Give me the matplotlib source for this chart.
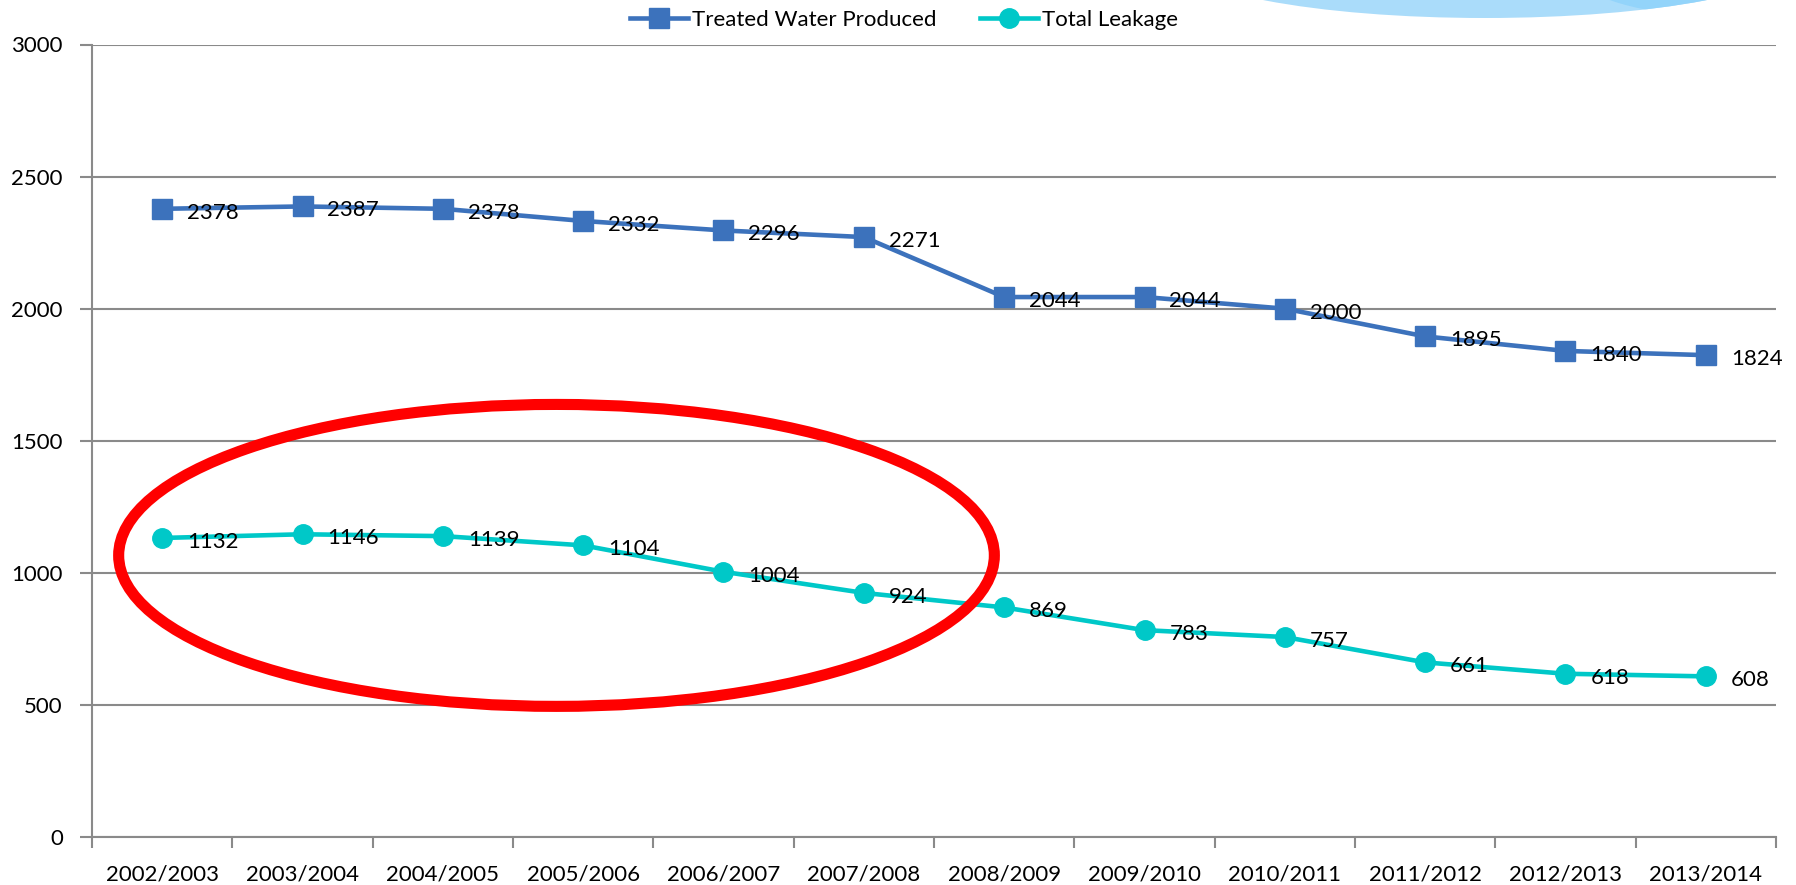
import matplotlib
matplotlib.use("Agg")
import matplotlib.pyplot as plt
from matplotlib.patches import Ellipse
import numpy as np

plt.rcParams['font.family'] = ['Lato', 'DejaVu Sans']

years = ["2002/2003", "2003/2004", "2004/2005", "2005/2006", "2006/2007", "2007/2008",
         "2008/2009", "2009/2010", "2010/2011", "2011/2012", "2012/2013", "2013/2014"]
treated = [2378, 2387, 2378, 2332, 2296, 2271, 2044, 2044, 2000, 1895, 1840, 1824]
leakage = [1132, 1146, 1139, 1104, 1004, 924, 869, 783, 757, 661, 618, 608]
yticks = [0, 500, 1000, 1500, 2000, 2500, 3000]

blue = '#3c72bc'
teal = '#00c8c8'
grid = '#8a8a8a'

W, H = 1796, 885
fig = plt.figure(figsize=(W / 100, H / 100), dpi=100)
ax = fig.add_axes([92 / W, (H - 837) / H, (1776 - 92) / W, (837 - 44.5) / H])

x = np.arange(len(years))
ax.plot(x, treated, color=blue, lw=3.3, marker='s', ms=14, mec=blue, label='Treated Water Produced', zorder=3)
ax.plot(x, leakage, color=teal, lw=3.3, marker='o', ms=14, mec=teal, label='Total Leakage', zorder=3)

for xi, v in zip(x, treated):
    ax.annotate(str(v), (xi, v), xytext=(25, -4), textcoords='offset pixels',
                ha='left', va='center', fontsize=16, color='black', zorder=5)
for xi, v in zip(x, leakage):
    ax.annotate(str(v), (xi, v), xytext=(25, -4), textcoords='offset pixels',
                ha='left', va='center', fontsize=16, color='black', zorder=5)

ax.set_xlim(-0.5, len(years) - 0.5)
ax.set_ylim(0, 3000)
ax.set_yticks(yticks)
ax.set_yticklabels([str(t) for t in yticks], fontsize=16)
ax.yaxis.grid(True, color=grid, lw=1.5)
ax.set_axisbelow(True)

ax.set_xticks(np.arange(-0.5, len(years)), minor=False)
ax.set_xticklabels([])
ax.set_xticks(x, minor=True)
ax.set_xticklabels(years, minor=True, fontsize=16)
ax.tick_params(axis='x', which='major', length=8, width=1.5, color=grid, direction='out')
ax.tick_params(axis='x', which='minor', length=0, pad=20)
ax.tick_params(axis='y', length=9, width=1.5, color=grid, pad=12)

for s in ['top', 'right']:
    ax.spines[s].set_visible(False)
for s in ['left', 'bottom']:
    ax.spines[s].set_color(grid)
    ax.spines[s].set_linewidth(1.5)

# red highlight ellipse
ell = Ellipse((2.81, 1066), width=6.24, height=1143, fill=False, edgecolor='#ff0000',
              lw=8, clip_on=False, zorder=6)
ax.add_patch(ell)

# decorative light blue shape at the top right
deco = Ellipse((1485 / W, 1 + 42 / H), width=622 / W, height=120 / H, transform=fig.transFigure,
               facecolor='#aadcfa', edgecolor='none', zorder=0)
fig.patches.append(deco)
deco2 = Ellipse((1700 / W, 1 + 30 / H), width=260 / W, height=90 / H, transform=fig.transFigure,
                facecolor='#93d4fa', edgecolor='none', zorder=0, angle=-6)
deco2.set_clip_path(deco)
fig.patches.append(deco2)

leg = fig.legend(loc='center', bbox_to_anchor=(904 / W, 1 - 20 / H), ncol=2, frameon=False,
                 fontsize=16, handlelength=2.6, handletextpad=0.15, columnspacing=2.0,
                 markerscale=1.0)

fig.savefig('out.png', dpi=100)
